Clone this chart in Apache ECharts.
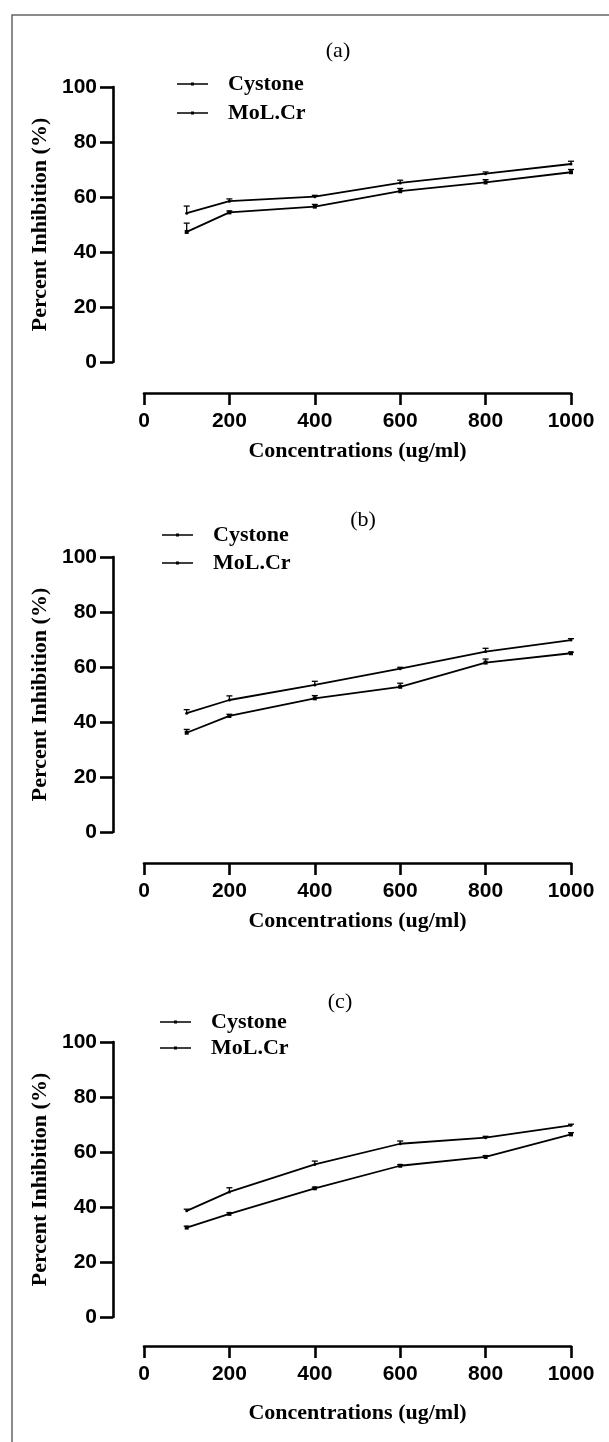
<!DOCTYPE html>
<html>
<head>
<meta charset="utf-8">
<script src="https://cdn.jsdelivr.net/npm/echarts@6/dist/echarts.min.js"></script>
<style>
  html, body { margin: 0; padding: 0; background: #fff; }
  #chart { width: 609px; height: 1442px; }
</style>
</head>
<body>
<div id="chart"></div>
<script>
// Concentrations tested (ug/ml)
const concentrations = [100, 200, 400, 600, 800, 1000];
const seriesNames = ['Cystone', 'MoL.Cr'];
const panelTitles = ['(a)', '(b)', '(c)'];
const yTicks = [0, 20, 40, 60, 80, 100];
const xTicks = [0, 200, 400, 600, 800, 1000];

// Percent inhibition (mean) and upper error (SD) per panel
const cystoneA = [54.1, 58.5, 60.1, 65.1, 68.5, 72.0];
const cystoneAErr = [2.6, 0.8, 0.5, 1.0, 0.6, 1.0];
const molcrA = [47.3, 54.4, 56.5, 62.1, 65.3, 69.0];
const molcrAErr = [3.2, 0.5, 0.8, 1.0, 1.0, 1.0];

const cystoneB = [43.2, 48.0, 53.5, 59.4, 65.6, 69.8];
const cystoneBErr = [1.3, 1.5, 1.3, 0.5, 1.2, 0.5];
const molcrB = [36.1, 42.2, 48.6, 52.8, 61.6, 65.0];
const molcrBErr = [1.2, 0.6, 1.0, 1.3, 1.3, 0.4];

const cystoneC = [38.6, 45.5, 55.5, 63.0, 65.2, 69.7];
const cystoneCErr = [0.6, 1.5, 1.2, 1.0, 0.5, 0.4];
const molcrC = [32.5, 37.5, 46.8, 55.0, 58.2, 66.4];
const molcrCErr = [0.5, 0.4, 0.4, 0.4, 0.5, 0.6];

const panelData = [
  [[cystoneA, cystoneAErr], [molcrA, molcrAErr]],
  [[cystoneB, cystoneBErr], [molcrB, molcrBErr]],
  [[cystoneC, cystoneCErr], [molcrC, molcrCErr]]
];

// Layout of the three stacked panels
const panels = [
  { top: 87,   xOffset: 31,   nameGap: 47, titleX: 333, titleY: 35,  legendX: 177, legendY: 73,   legendGap: 7 },
  { top: 557,  xOffset: 31,   nameGap: 47, titleX: 358, titleY: 504, legendX: 162, legendY: 524,  legendGap: 6 },
  { top: 1042, xOffset: 29,   nameGap: 56, titleX: 335, titleY: 986, legendX: 160, legendY: 1011, legendGap: 4 }
];
const plotLeft = 144, plotWidth = 427, plotHeight = 275, yOffset = 31;

const sansBold = { fontFamily: 'Liberation Sans', fontWeight: 'bold', fontSize: 21, color: '#000' };
const serifBold = { fontFamily: 'Liberation Serif', fontWeight: 'bold', fontSize: 22, color: '#000' };
const axisLineStyle = { color: '#000', width: 2.6 };

const grid = [], xAxis = [], yAxis = [], series = [], legend = [], title = [];

panels.forEach((p, i) => {
  grid.push({ left: plotLeft, width: plotWidth, top: p.top, height: plotHeight });
  xAxis.push({
    type: 'value', gridIndex: i, min: xTicks[0], max: xTicks[xTicks.length - 1], interval: 200,
    offset: p.xOffset,
    axisLine: { show: true, onZero: false, lineStyle: axisLineStyle },
    axisTick: { show: true, length: 12, lineStyle: axisLineStyle },
    axisLabel: Object.assign({ margin: 18, formatter: v => String(v) }, sansBold),
    splitLine: { show: false },
    name: 'Concentrations (ug/ml)', nameLocation: 'middle', nameGap: p.nameGap,
    nameTextStyle: serifBold
  });
  yAxis.push({
    type: 'value', gridIndex: i, min: yTicks[0], max: yTicks[yTicks.length - 1], interval: 20,
    offset: yOffset,
    axisLine: { show: true, onZero: false, lineStyle: axisLineStyle },
    axisTick: { show: true, length: 13, lineStyle: axisLineStyle },
    axisLabel: Object.assign({ margin: 16, formatter: v => String(v) }, sansBold),
    splitLine: { show: false },
    name: 'Percent Inhibition (%)', nameLocation: 'middle', nameGap: 62, nameRotate: 90,
    nameTextStyle: serifBold
  });
  title.push({
    text: panelTitles[i], left: p.titleX, top: p.titleY, textAlign: 'center',
    textStyle: { fontFamily: 'Liberation Serif', fontWeight: 'normal', fontSize: 22, color: '#000' }
  });
  legend.push({
    data: seriesNames, orient: 'vertical', left: p.legendX, top: p.legendY,
    itemWidth: 31, itemHeight: 4, itemGap: p.legendGap, padding: 0,
    icon: 'path://M0,1.3H31V2.7H0Z M14,0.5H17V3.5H14Z',
    itemStyle: { color: '#000' },
    textStyle: { fontFamily: 'Liberation Serif', fontWeight: 'bold', fontSize: 22, color: '#000',
                 lineHeight: 22, padding: [0, 0, 0, 15] },
    selectedMode: false
  });

  panelData[i].forEach((pair, s) => {
    const means = pair[0], errs = pair[1];
    series.push({
      name: seriesNames[s], type: 'line', xAxisIndex: i, yAxisIndex: i,
      data: concentrations.map((c, k) => [c, means[k]]),
      symbol: s === 0 ? 'circle' : 'rect', symbolSize: s === 0 ? 3 : 4,
      lineStyle: { color: '#000', width: 1.8 },
      itemStyle: { color: '#000' },
      silent: true, animation: false, z: 3
    });
    // Upward error bars with a short cap
    series.push({
      name: seriesNames[s], type: 'custom', xAxisIndex: i, yAxisIndex: i,
      data: concentrations.map((c, k) => [c, means[k], means[k] + errs[k]]),
      renderItem: function (params, api) {
        const base = api.coord([api.value(0), api.value(1)]);
        const top = api.coord([api.value(0), api.value(2)]);
        const style = { stroke: '#000', lineWidth: 1.3 };
        return {
          type: 'group',
          children: [
            { type: 'line', shape: { x1: base[0], y1: base[1], x2: top[0], y2: top[1] }, style },
            { type: 'line', shape: { x1: top[0] - 3, y1: top[1], x2: top[0] + 3, y2: top[1] }, style }
          ]
        };
      },
      silent: true, animation: false, z: 4
    });
  });
});

const chart = echarts.init(document.getElementById('chart'), null, { renderer: 'canvas' });
chart.setOption({
  backgroundColor: '#fff',
  animation: false,
  title, legend, grid, xAxis, yAxis, series,
  graphic: [{
    type: 'rect', left: 9.5, top: 12.5,
    shape: { x: 0, y: 0, width: 700, height: 1500 },
    style: { fill: 'none', stroke: '#666', lineWidth: 1.5 },
    silent: true, z: -1
  }]
});
</script>
</body>
</html>
